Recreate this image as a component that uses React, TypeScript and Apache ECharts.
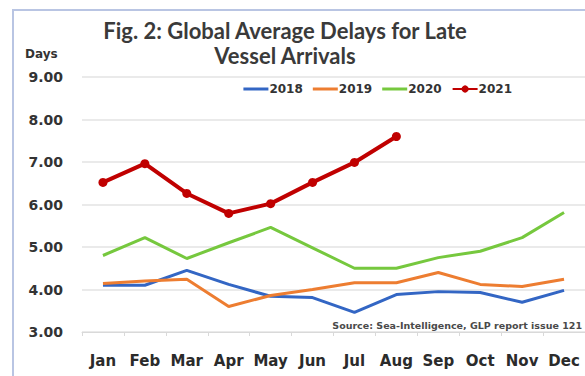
import React, { useEffect, useRef } from "react";
import * as echarts from "echarts";

const months = ["Jan", "Feb", "Mar", "Apr", "May", "Jun", "Jul", "Aug", "Sep", "Oct", "Nov", "Dec"];
const yTicks = [3, 4, 5, 6, 7, 8, 9];
const s2018 = [4.1, 4.1, 4.45, 4.12, 3.84, 3.81, 3.46, 3.88, 3.95, 3.93, 3.7, 3.98];
const s2019 = [4.14, 4.2, 4.24, 3.6, 3.86, 4.0, 4.16, 4.16, 4.4, 4.12, 4.07, 4.24];
const s2020 = [4.8, 5.22, 4.73, 5.1, 5.46, 4.98, 4.5, 4.5, 4.75, 4.9, 5.22, 5.81];
const s2021 = [6.52, 6.96, 6.26, 5.79, 6.02, 6.52, 6.99, 7.6];

const TITLE_FONT = "Lato";
const FONT = "DejaVu Sans";
const LINE_ICON = "path://M0,0 L25,0 L25,3 L0,3 Z";

export default function App() {
  const ref = useRef<HTMLDivElement>(null);
  useEffect(() => {
    if (!ref.current) return;
    const chart = echarts.init(ref.current, null, { renderer: "svg" });
    const lineSeries = (name: string, data: number[], color: string) => ({
      name,
      type: "line",
      data,
      symbol: "none",
      showSymbol: false,
      lineStyle: { color, width: 3 },
      itemStyle: { color },
      z: 2,
    });
    chart.setOption({
      animation: false,
      backgroundColor: "#ffffff",
      title: {
        text: "Fig. 2: Global Average Delays for Late\nVessel Arrivals",
        left: 280,
        textAlign: "center",
        top: 13,
        textStyle: {
          fontFamily: TITLE_FONT,
          fontWeight: "bold",
          fontSize: 22,
          color: "#3a3a3a",
          lineHeight: 25,
        },
      },
      legend: {
        right: 68,
        top: 78,
        itemWidth: 25,
        itemHeight: 9,
        itemGap: 10,
        textStyle: { fontFamily: FONT, fontWeight: "bold", fontSize: 12, color: "#333333", padding: [0, 0, 0, -4] },
        data: [
          { name: "2018", icon: LINE_ICON },
          { name: "2019", icon: LINE_ICON },
          { name: "2020", icon: LINE_ICON },
          { name: "2021" },
        ],
      },
      grid: { left: 82, top: 77, width: 504, height: 255 },
      xAxis: {
        type: "category",
        data: months,
        boundaryGap: true,
        axisLine: { lineStyle: { color: "#d9d9d9", width: 1 } },
        axisTick: { show: true, lineStyle: { color: "#d9d9d9" }, length: 4 },
        axisLabel: {
          interval: 0,
          fontFamily: FONT,
          fontWeight: "bold",
          fontSize: 15,
          color: "#2b2b2b",
          margin: 21,
        },
      },
      yAxis: {
        type: "value",
        min: yTicks[0],
        max: yTicks[yTicks.length - 1],
        interval: 1,
        name: "Days",
        nameLocation: "end",
        nameGap: 0,
        nameTextStyle: {
          fontFamily: FONT,
          fontWeight: "bold",
          fontSize: 12,
          color: "#333333",
          align: "left",
          verticalAlign: "bottom",
          padding: [0, 0, 17, -57],
        },
        axisLine: { show: false },
        axisTick: { show: false },
        splitLine: { lineStyle: { color: "#e3e3e3", width: 1.5 } },
        axisLabel: {
          fontFamily: FONT,
          fontWeight: "bold",
          fontSize: 14,
          color: "#333333",
          margin: 19,
          formatter: (v: number) => v.toFixed(2),
        },
      },
      graphic: [
        {
          type: "rect",
          shape: { x: 13, y: 10, width: 640, height: 420 },
          style: { fill: "none", stroke: "#b9c5e3", lineWidth: 2 },
          silent: true,
        },
        {
          type: "text",
          right: 3,
          top: 320,
          style: {
            text: "Source: Sea-Intelligence, GLP report issue 121",
            fontFamily: FONT,
            fontWeight: "bold",
            fontSize: 9.5,
            fill: "#4a4a4a",
          },
        },
      ],
      series: [
        lineSeries("2018", s2018, "#3366c4"),
        lineSeries("2019", s2019, "#ed7d31"),
        lineSeries("2020", s2020, "#76c83e"),
        {
          name: "2021",
          type: "line",
          data: s2021,
          symbol: "circle",
          symbolSize: 9,
          showSymbol: true,
          lineStyle: { color: "#c00000", width: 4 },
          itemStyle: { color: "#c00000" },
          z: 3,
        },
      ],
    });
    return () => chart.dispose();
  }, []);
  return (
    <div
      ref={ref}
      style={{ position: "fixed", left: 0, top: 0, width: 585, height: 376 }}
    />
  );
}
